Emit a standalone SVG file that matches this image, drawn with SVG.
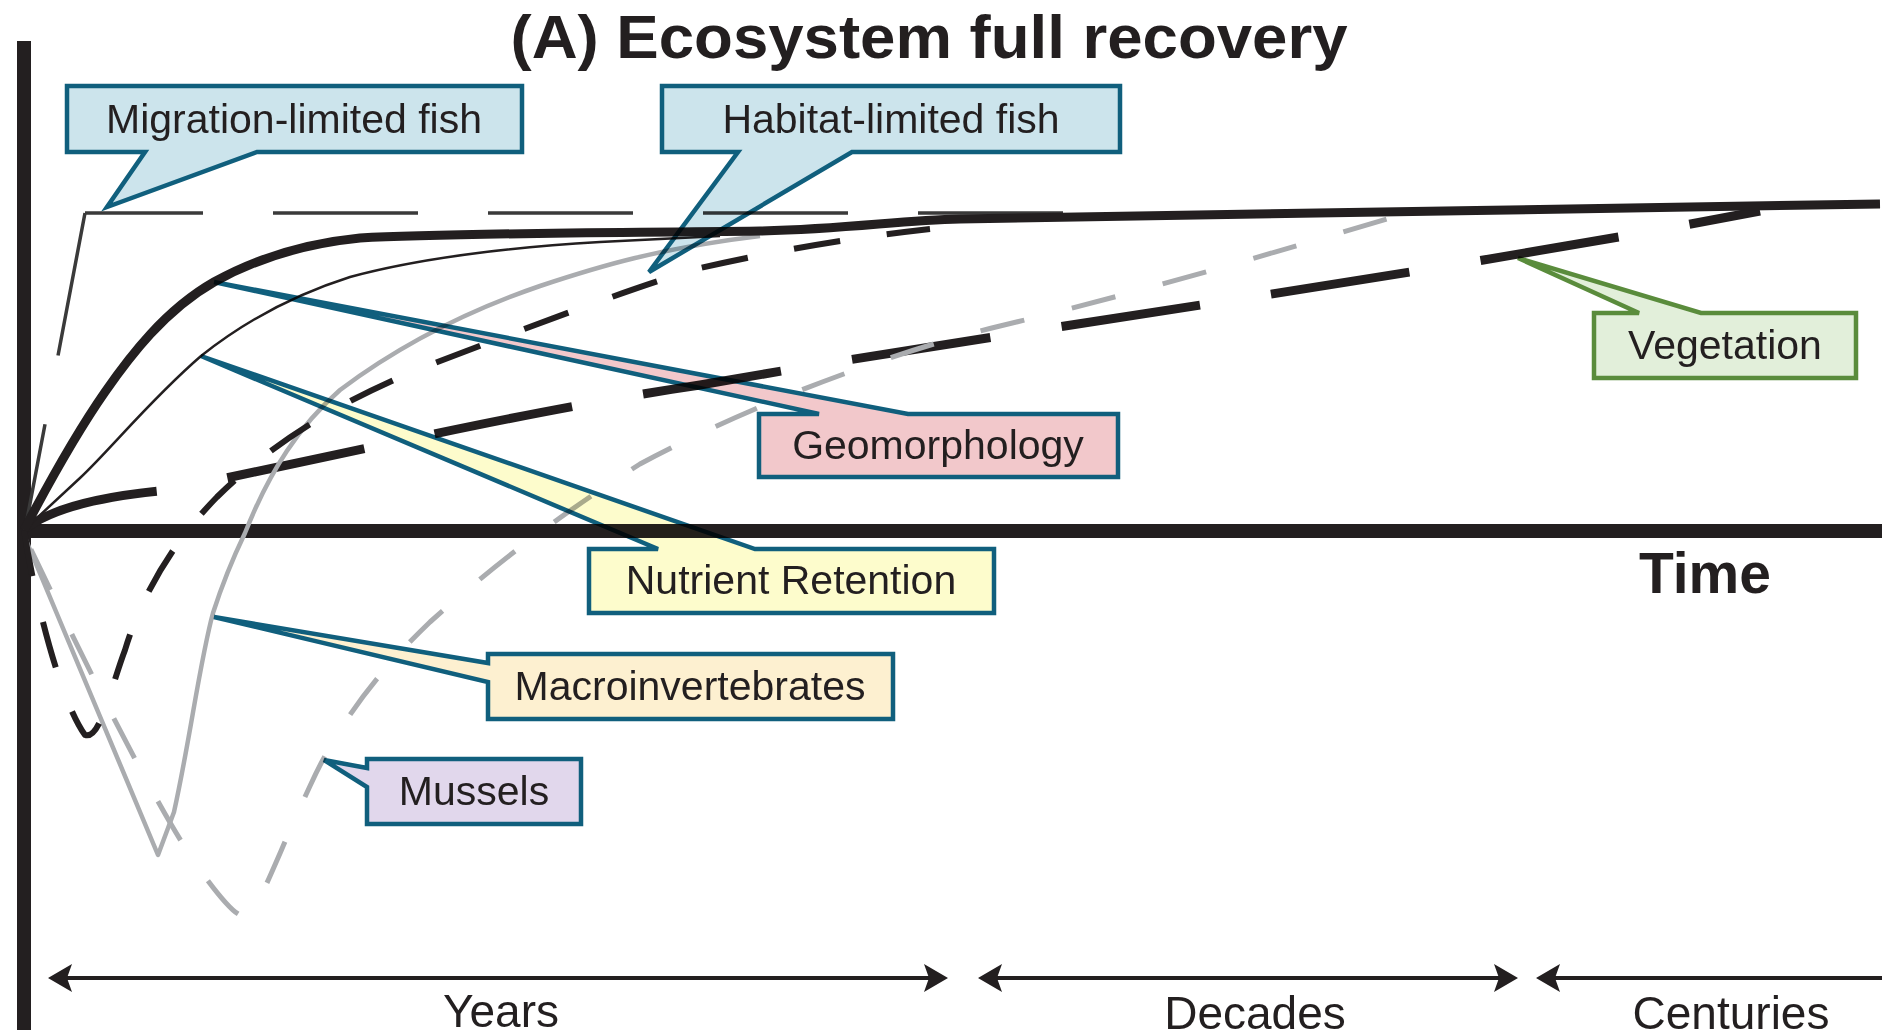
<svg xmlns="http://www.w3.org/2000/svg" width="1882" height="1036" viewBox="0 0 1882 1036">
<style>
.cur{fill:none;stroke-linejoin:round;stroke-linecap:butt}
.blk{stroke:#231f20}
.gry{stroke:#aaacaf}
.co{stroke:#105f7d;stroke-width:4.5;stroke-linejoin:miter;mix-blend-mode:multiply}
.lbl{font-family:"Liberation Sans",Arial,Helvetica,sans-serif;font-size:41px;fill:#231f20;text-anchor:middle}
.ts{font-family:"Liberation Sans",Arial,Helvetica,sans-serif;font-size:46px;fill:#231f20;text-anchor:middle}
.bold{font-family:"Liberation Sans",Arial,Helvetica,sans-serif;font-weight:bold;fill:#231f20}
.scale{stroke:#231f20;stroke-width:4;fill:none;marker-start:url(#ah);marker-end:url(#ah)}
</style>
<defs>
<marker id="ah" viewBox="0 0 24 28" refX="12" refY="14" markerWidth="24" markerHeight="28" markerUnits="userSpaceOnUse" orient="auto-start-reverse">
<path d="M0,0 L24,14 L0,28 L5,14 Z" fill="#231f20"/>
</marker>
</defs>
<rect width="1882" height="1036" fill="#ffffff"/>

<text id="title" class="bold" x="929" y="58" font-size="62" text-anchor="middle" textLength="837" lengthAdjust="spacingAndGlyphs">(A) Ecosystem full recovery</text>

<g id="axes">
<line x1="24" y1="41" x2="24" y2="1030" stroke="#231f20" stroke-width="14"/>
<line x1="17" y1="531" x2="1882" y2="531" stroke="#231f20" stroke-width="14"/>
<text class="bold" x="1639" y="593" font-size="57">Time</text>
</g>

<g id="curves">
<!-- Vegetation: thick long dashes -->
<path class="cur blk" stroke-width="9" stroke-dasharray="140 72" d="M24,530 C50,508 100,497 160,491 C300,465 500,415 700,385 C1000,332 1400,280 1760,211"/>
<!-- Mussels: grey dashed -->
<path class="cur gry" stroke-width="5" stroke-dasharray="45 49" stroke-dashoffset="78" d="M24,535 C60,610 150,800 200,870 C222,900 238,920 248,916 C258,910 280,850 310,786 C340,720 380,670 430,622 C500,560 560,515 640,464 C760,400 900,350 1000,326 C1150,290 1300,245 1400,215"/>
<!-- Macroinvertebrates: grey solid -->
<path class="cur gry" stroke-width="4.5" d="M26,540 C55,610 110,740 158,855 L174,812 C190,740 200,660 213,613 C222,585 232,560 245,533 C270,470 300,425 340,390 C400,345 470,310 540,286 C600,266 660,248 760,236"/>
<!-- Habitat-limited fish: medium dashes -->
<path class="cur blk" stroke-width="6" stroke-dasharray="47 47" d="M24,530 C35,600 60,700 85,735 C100,740 110,690 125,650 C140,600 170,545 217,497 C260,455 320,410 417,370 C520,330 640,285 700,268 C780,250 850,238 930,229"/>
<!-- Nutrient Retention: thin solid -->
<path class="cur blk" stroke-width="2.5" d="M24,530 L80,478 C110,450 150,400 201,356 C240,325 290,296 350,277 C420,258 500,248 600,242 L720,236"/>
<!-- Migration-limited fish: thin long dashes -->
<path class="cur" stroke="#3a3a3a" stroke-width="3.5" stroke-dasharray="145 70" d="M85,213 L25,530"/>
<path class="cur" stroke="#3a3a3a" stroke-width="3.5" stroke-dasharray="145 70" stroke-dashoffset="27" d="M85,213 L1064,213"/>
<!-- Geomorphology: thick solid -->
<path class="cur blk" stroke-width="9" d="M24,530 C45,490 75,435 105,392 C130,356 165,310 214,282 C250,262 300,244 360,238 C450,233 600,233 760,231 C850,229 900,220 960,219 C1200,214 1600,209 1880,204"/>
</g>

<g id="timescale">
<line class="scale" x1="60" y1="978" x2="936" y2="978"/>
<line class="scale" x1="990" y1="978" x2="1506" y2="978"/>
<line class="scale" x1="1548" y1="978" x2="1894" y2="978"/>
<text class="ts" x="501" y="1027">Years</text>
<text class="ts" x="1255" y="1029">Decades</text>
<text class="ts" x="1731" y="1029">Centuries</text>
</g>

<g id="migration-limited-fish">
<path class="co" fill="#cce4ec" d="M67,86 H522 V152 H257 L107,207 L145,152 H67 Z"/>
<text class="lbl" x="294" y="133">Migration-limited fish</text>
</g>
<g id="habitat-limited-fish">
<path class="co" fill="#cce4ec" d="M662,86 H1120 V152 H852 L649,272 L738,152 H662 Z"/>
<text class="lbl" x="891" y="133">Habitat-limited fish</text>
</g>
<g id="vegetation">
<path class="co" fill="#e2efda" style="stroke:#5a8c3c" d="M1594,313 H1639 L1518,258 L1701,313 H1856 V378 H1594 Z"/>
<text class="lbl" x="1725" y="359">Vegetation</text>
</g>
<g id="geomorphology">
<path class="co" fill="#f2c8cb" d="M759,414 H819 L214,282 L908,414 H1118 V477 H759 Z"/>
<text class="lbl" x="938" y="459">Geomorphology</text>
</g>
<g id="nutrient-retention">
<path class="co" fill="#fdfccc" d="M589,549 H658 L201,356 L755,549 H994 V613 H589 Z"/>
<text class="lbl" x="791" y="594">Nutrient Retention</text>
</g>
<g id="macroinvertebrates">
<path class="co" fill="#fdf0d0" d="M488,654 H893 V719 H488 V682 L214,617 L488,663 Z"/>
<text class="lbl" x="690" y="700">Macroinvertebrates</text>
</g>
<g id="mussels">
<path class="co" fill="#e1d7ec" d="M367,759 H581 V824 H367 V787 L324,760 L367,768 Z"/>
<text class="lbl" x="474" y="805">Mussels</text>
</g>
</svg>
